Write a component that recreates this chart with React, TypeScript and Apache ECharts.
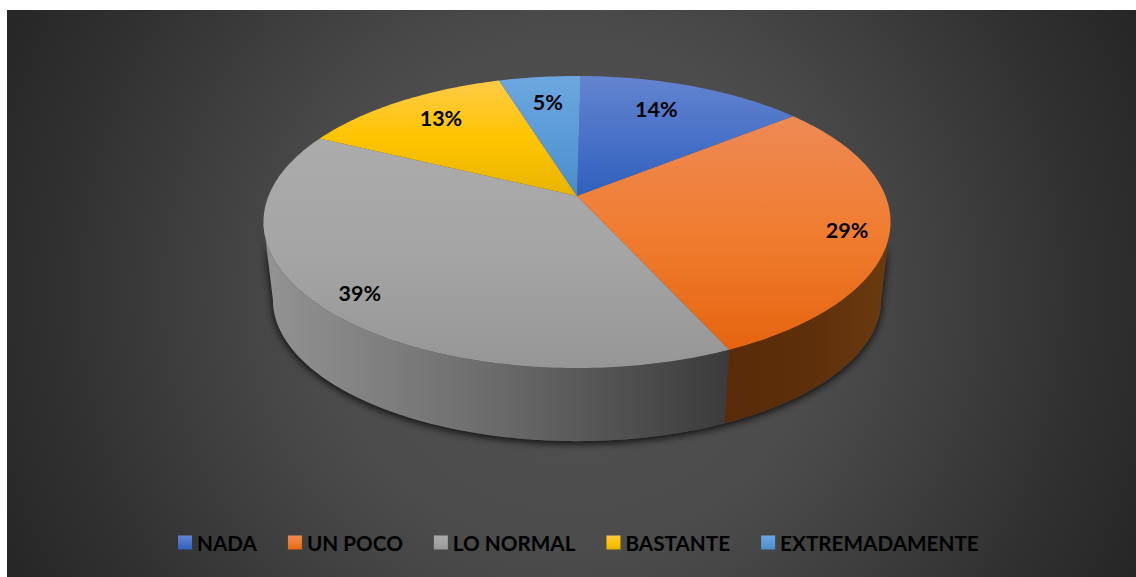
import { useEffect, useRef } from "react";
import * as echarts from "echarts";

const categories = ["NADA", "UN POCO", "LO NORMAL", "BASTANTE", "EXTREMADAMENTE"];
const shares = [14, 29, 39, 13, 5];

const WIDTH = 1136;
const HEIGHT = 577;

// Disc geometry in page pixels; depth foreshortens the far half of the pie.
const APEX_X = 577;
const APEX_Y = 196;
const RADIUS_X = 308.5;
const RADIUS_Y = 141.4;
const DEPTH = 0.178;
const BASE_SCALE = 0.97;
const BASE_CENTER_Y = 299.5;
const TOP_CENTER_Y = 222;
const STEP = Math.PI / 180;
const FIRST_SLICE_ANGLE = (0.8 * Math.PI) / 180;

const topFill = [
  ["#6484d0", "#4a72c8", "#2f60bc"],
  ["#ee8a55", "#f07c30", "#e5640f"],
  ["#ababab", "#a5a5a5", "#969696"],
  ["#ffcb48", "#ffc400", "#e6b400"],
  ["#6ea7df", "#5a9bd8", "#4a8dca"],
];
const sideFill: (string[] | null)[] = [
  null,
  ["#592b08", "#5c2e0a", "#6b3a10"],
  ["#939393", "#6f6f6f", "#3b3b3b"],
  null,
  null,
];
const labelReach = [0.72, 0.88, 0.89, 0.74, 0.75];
const labelNudge = [
  [-8, -5],
  [-4, 4],
  [4, -2],
  [-1, -5.5],
  [0, -1],
];

const vertical = (stops: string[]) => ({
  type: "linear", x: 0, y: 0, x2: 0, y2: 1,
  colorStops: [
    { offset: 0, color: stops[0] },
    { offset: 0.5, color: stops[1] },
    { offset: 1, color: stops[2] },
  ],
});
const horizontal = (stops: string[]) => ({
  type: "linear", x: 0, y: 0, x2: 1, y2: 0,
  colorStops: [
    { offset: 0, color: stops[0] },
    { offset: 0.45, color: stops[1] },
    { offset: 1, color: stops[2] },
  ],
});

// Angle runs clockwise from twelve o'clock; r is the fraction of the radius.
const project = (angle: number, r = 1): [number, number] => {
  const u = r * Math.sin(angle);
  const v = -r * Math.cos(angle);
  const w = 1 - DEPTH * v;
  return [APEX_X + (RADIUS_X * u) / w, APEX_Y + (RADIUS_Y * v) / w];
};
const projectBase = (angle: number): [number, number] => {
  const [x, y] = project(angle);
  return [APEX_X + (x - APEX_X) * BASE_SCALE, BASE_CENTER_Y + (y - TOP_CENTER_Y) * BASE_SCALE];
};
const arc = (from: number, to: number, at: (a: number) => [number, number]) => {
  const points: [number, number][] = [];
  const n = Math.max(2, Math.ceil((to - from) / STEP));
  for (let i = 0; i <= n; i++) points.push(at(from + ((to - from) * i) / n));
  return points;
};

const total = shares.reduce((a, b) => a + b, 0);
const angleAt = (index: number) =>
  FIRST_SLICE_ANGLE + (shares.slice(0, index).reduce((a, b) => a + b, 0) / total) * Math.PI * 2;

// The wall is visible between the two points where the rim is at its widest.
const WALL_FROM = Math.acos(-DEPTH);
const WALL_TO = Math.PI * 2 - WALL_FROM;

const renderSlice = (index: number) => (_params: unknown, api: any) => {
  const value = api.value(0);
  const start = angleAt(index);
  const end = start + (value / total) * Math.PI * 2;
  const children: any[] = [];
  const side = sideFill[index];
  if (side) {
    const a = Math.max(start, WALL_FROM);
    const b = Math.min(end, WALL_TO);
    children.push({
      type: "polygon",
      shape: { points: [...arc(a, b, (t) => project(t)), ...arc(a, b, projectBase).reverse()] },
      style: { fill: horizontal(side) },
    });
  }
  children.push({
    type: "polygon",
    shape: { points: [[APEX_X, APEX_Y], ...arc(start, end, (t) => project(t))] },
    style: { fill: vertical(topFill[index]) },
  });
  const [lx, ly] = project((start + end) / 2, labelReach[index]);
  children.push({
    type: "text",
    style: {
      x: lx + labelNudge[index][0],
      y: ly + labelNudge[index][1],
      text: `${value}%`,
      align: "center",
      verticalAlign: "middle",
      fill: "#000000",
      font: "bold 21.5px Lato",
    },
  });
  return { type: "group", children };
};

// Soft shadow cast by the solid on the backdrop.
const renderShadow = () => ({
  type: "polygon",
  shape: {
    points: [
      ...arc(WALL_FROM, WALL_TO, projectBase),
      ...arc(WALL_FROM, WALL_TO, (t) => project(t)).reverse(),
    ],
  },
  style: {
    fill: "#3c3c3c",
    shadowColor: "rgba(0,0,0,0.9)",
    shadowBlur: 8,
    shadowOffsetX: 0,
    shadowOffsetY: 2,
  },
});

export default function App() {
  const host = useRef<HTMLDivElement>(null);
  useEffect(() => {
    const chart = echarts.init(host.current!, undefined, { renderer: "svg" });
    chart.setOption({
      animation: false,
      backgroundColor: "#ffffff",
      graphic: [
        {
          type: "rect",
          z: -10,
          silent: true,
          shape: { x: 7, y: 10, width: WIDTH - 7, height: HEIGHT - 10 },
          style: {
            fill: {
              type: "radial",
              x: 571,
              y: 293,
              r: 632,
              global: true,
              colorStops: [
                { offset: 0, color: "#525252" },
                { offset: 0.4, color: "#4c4c4c" },
                { offset: 0.5, color: "#464646" },
                { offset: 0.82, color: "#303030" },
                { offset: 1, color: "#262626" },
              ],
            },
          },
        },
      ],
      legend: {
        data: categories.map((name, i) => ({
          name,
          icon: "rect",
          itemStyle: { color: vertical(topFill[i]) },
        })),
        selectedMode: false,
        left: 178,
        top: 532,
        padding: 0,
        itemWidth: 14,
        itemHeight: 14,
        itemGap: 31,
        textStyle: { color: "#000000", fontFamily: "Lato", fontWeight: "bold", fontSize: 20.7 },
      },
      series: [
        {
          type: "custom",
          name: "shadow",
          coordinateSystem: "none",
          silent: true,
          data: [[1]],
          renderItem: renderShadow,
        },
        ...categories.map((name, i) => ({
          type: "custom",
          name,
          coordinateSystem: "none",
          silent: true,
          itemStyle: { color: topFill[i][1] },
          data: [[shares[i]]],
          renderItem: renderSlice(i),
        })),
      ],
    });
    return () => chart.dispose();
  }, []);
  return (
    <div
      ref={host}
      style={{ position: "fixed", left: 0, top: 0, width: WIDTH, height: HEIGHT }}
    />
  );
}
